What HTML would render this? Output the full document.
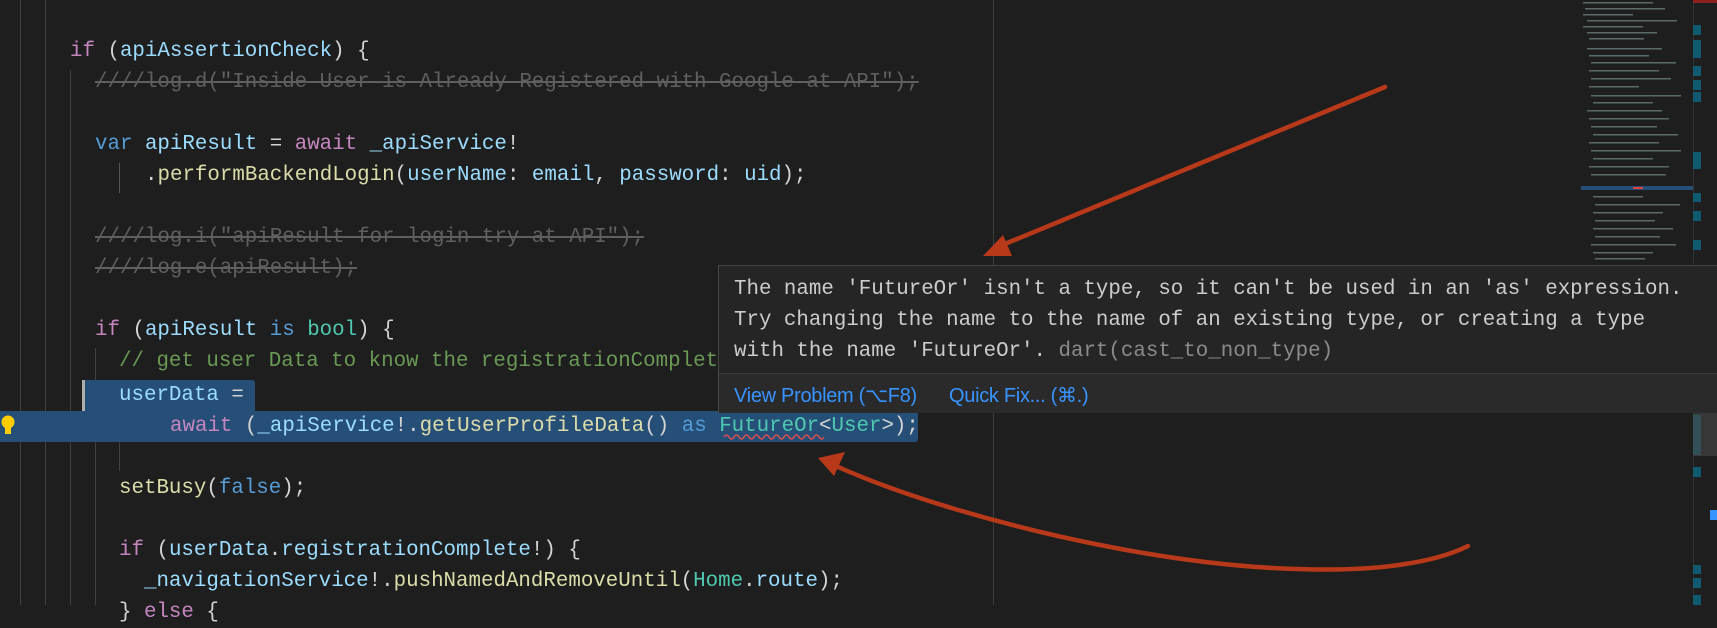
<!DOCTYPE html>
<html><head><meta charset="utf-8"><style>
html,body{margin:0;padding:0;}
body{width:1717px;height:605px;background:#1e1e1e;position:relative;overflow:hidden;font-family:"Liberation Mono",monospace;}
.l{position:absolute;height:31px;line-height:31px;font-size:20.8px;white-space:pre;color:#d4d4d4;}
.k{color:#c586c0}.b{color:#569cd6}.v{color:#9cdcfe}.f{color:#dcdcaa}.t{color:#4ec9b0}.c{color:#6a9955}
.d{color:#5f5f5f;text-decoration:line-through;}
.g{position:absolute;width:1px;background:#404040;}
.sel{position:absolute;background:#264f78;}
.tip{position:absolute;left:718px;top:265px;width:1010px;height:147px;background:#252526;border:1px solid #454545;box-sizing:border-box;}
.tt{position:absolute;left:15px;font-size:20.8px;line-height:31px;color:#cccccc;white-space:pre;}
.lk{position:absolute;top:115px;font-family:"Liberation Sans",sans-serif;font-size:20px;color:#3794ff;line-height:30px;letter-spacing:-0.3px;}
</style></head><body>
<div class="g" style="left:20px;top:0;height:605px"></div>
<div class="g" style="left:45px;top:0;height:605px"></div>
<div class="g" style="left:70px;top:70px;height:535px"></div>
<div class="g" style="left:95px;top:348px;height:257px"></div>
<div class="g" style="left:119px;top:163px;height:30px;background:#555"></div>
<div class="g" style="left:119px;top:411px;height:60px"></div>
<div class="g" style="left:993px;top:0;height:605px;background:#3c3c3c"></div>

<div class="sel" style="left:82px;top:380px;width:173px;height:31px;border-radius:3px 3px 0 0"></div>
<div class="sel" style="left:0;top:411px;width:918px;height:31px;border-radius:0 3px 3px 0"></div>
<div style="position:absolute;left:82px;top:380px;width:3px;height:31px;background:#aeafad"></div>

<div class="l" style="left:70px;top:36px"><span class="k">if</span> (<span class="v">apiAssertionCheck</span>) {</div>
<div class="l d" style="left:95px;top:67px">////log.d("Inside User is Already Registered with Google at API");</div>
<div class="l" style="left:95px;top:129px"><span class="b">var</span> <span class="v">apiResult</span> = <span class="k">await</span> <span class="v">_apiService</span>!</div>
<div class="l" style="left:145px;top:160px">.<span class="f">performBackendLogin</span>(<span class="v">userName</span>: <span class="v">email</span>, <span class="v">password</span>: <span class="v">uid</span>);</div>
<div class="l d" style="left:95px;top:222px">////log.i("apiResult for login try at API");</div>
<div class="l d" style="left:95px;top:253px">////log.e(apiResult);</div>
<div class="l" style="left:95px;top:315px"><span class="k">if</span> (<span class="v">apiResult</span> <span class="b">is</span> <span class="t">bool</span>) {</div>
<div class="l c" style="left:119px;top:346px">// get user Data to know the registrationComplete</div>
<div class="l" style="left:119px;top:380px"><span class="v">userData</span> =</div>
<div class="l" style="left:170px;top:411px"><span class="k">await</span> (<span class="v">_apiService</span>!.<span class="f">getUserProfileData</span>() <span class="b">as</span> <span class="t">FutureOr</span>&lt;<span class="t">User</span>&gt;);</div>
<div class="l" style="left:119px;top:473px"><span class="f">setBusy</span>(<span class="b">false</span>);</div>
<div class="l" style="left:119px;top:535px"><span class="k">if</span> (<span class="v">userData</span>.<span class="v">registrationComplete</span>!) {</div>
<div class="l" style="left:144px;top:566px"><span class="v">_navigationService</span>!.<span class="f">pushNamedAndRemoveUntil</span>(<span class="t">Home</span>.<span class="v">route</span>);</div>
<div class="l" style="left:119px;top:597px">} <span class="k">else</span> {</div>

<svg style="position:absolute;left:0;top:0" width="1717" height="605">
<path d="M724 437 q2.5 -4 5 0 t5 0 t5 0 t5 0 t5 0 t5 0 t5 0 t5 0 t5 0 t5 0 t5 0 t5 0 t5 0 t5 0 t5 0 t5 0 t5 0 t5 0 t5 0 t5 0" fill="none" stroke="#f14c4c" stroke-width="1.3"/>
<circle cx="8" cy="422" r="6.5" fill="#ffcc00"/><rect x="5" y="427" width="6" height="7" fill="#ffcc00"/>
</svg>

<svg style="position:absolute;left:1573px;top:0" width="144" height="605">
<g fill="#5a6a6a">
<rect x="10" y="2" width="70" height="1.5"/><rect x="12" y="8" width="80" height="1.5"/><rect x="10" y="14" width="50" height="1.5"/><rect x="14" y="20" width="90" height="1.5"/><rect x="10" y="26" width="60" height="1.5"/><rect x="14" y="32" width="70" height="1.5"/><rect x="16" y="38" width="55" height="1.5"/><rect x="14" y="48" width="75" height="1.5"/><rect x="16" y="55" width="60" height="1.5"/><rect x="18" y="62" width="85" height="1.5"/><rect x="16" y="70" width="70" height="1.5"/><rect x="18" y="78" width="80" height="1.5"/><rect x="16" y="86" width="50" height="1.5"/><rect x="18" y="95" width="90" height="1.5"/><rect x="20" y="102" width="60" height="1.5"/><rect x="14" y="110" width="75" height="1.5"/><rect x="16" y="118" width="80" height="1.5"/><rect x="18" y="126" width="66" height="1.5"/><rect x="20" y="134" width="85" height="1.5"/><rect x="16" y="142" width="70" height="1.5"/><rect x="18" y="150" width="90" height="1.5"/><rect x="20" y="158" width="60" height="1.5"/><rect x="16" y="166" width="80" height="1.5"/><rect x="18" y="174" width="75" height="1.5"/><rect x="20" y="196" width="50" height="1.5"/><rect x="22" y="204" width="85" height="1.5"/><rect x="20" y="212" width="70" height="1.5"/><rect x="22" y="220" width="60" height="1.5"/><rect x="20" y="228" width="80" height="1.5"/><rect x="22" y="236" width="65" height="1.5"/><rect x="18" y="244" width="85" height="1.5"/><rect x="20" y="252" width="60" height="1.5"/><rect x="22" y="258" width="50" height="1.5"/>
</g>
<rect x="8" y="186" width="112" height="4" fill="#264f78"/><rect x="60" y="187" width="10" height="2" fill="#e04040"/>
<rect x="120" y="0" width="1" height="605" fill="#333"/>
<g fill="#0f5a6e"><rect x="120" y="25" width="8" height="10"/><rect x="120" y="40" width="8" height="18"/><rect x="120" y="66" width="8" height="10"/><rect x="120" y="80" width="8" height="10"/><rect x="120" y="92" width="8" height="10"/><rect x="120" y="152" width="8" height="17"/><rect x="120" y="193" width="8" height="9"/><rect x="120" y="211" width="8" height="10"/><rect x="120" y="240" width="8" height="10"/><rect x="120" y="415" width="8" height="40"/><rect x="120" y="467" width="8" height="10"/><rect x="120" y="565" width="8" height="9"/><rect x="120" y="578" width="8" height="10"/><rect x="120" y="595" width="8" height="10"/></g>
<rect x="120" y="413" width="24" height="43" fill="#4a4a4a" opacity="0.6"/>
<rect x="137" y="510" width="7" height="10" fill="#3794ff"/>
<rect x="120" y="0" width="24" height="3" fill="#8b2020"/>
</svg>

<div class="tip">
<div class="tt" style="top:8px">The name 'FutureOr' isn't a type, so it can't be used in an 'as' expression.</div>
<div class="tt" style="top:39px">Try changing the name to the name of an existing type, or creating a type</div>
<div class="tt" style="top:70px">with the name 'FutureOr'. <span style="color:#8b8b8b">dart(cast_to_non_type)</span></div>
<div style="position:absolute;left:0;right:0;top:107px;height:39px;border-top:1px solid #3c3c3c;background:#2a2a2b"></div>
<div class="lk" style="left:15px">View Problem (⌥F8)</div>
<div class="lk" style="left:230px">Quick Fix... (⌘.)</div>
</div>

<svg style="position:absolute;left:0;top:0" width="1717" height="605">
<g stroke="#b8391a" stroke-width="4.5" fill="none" stroke-linecap="round">
<path d="M1385 87 L1000 246"/>
<path d="M1468 546 C1400 580 1250 575 1100 545 C1000 525 900 495 836 466"/>
</g>
<g fill="#b8391a">
<polygon points="983,256 1003,235 1012,256"/>
<polygon points="818,458 845,452 834,476"/>
</g>
</svg>
</body></html>
